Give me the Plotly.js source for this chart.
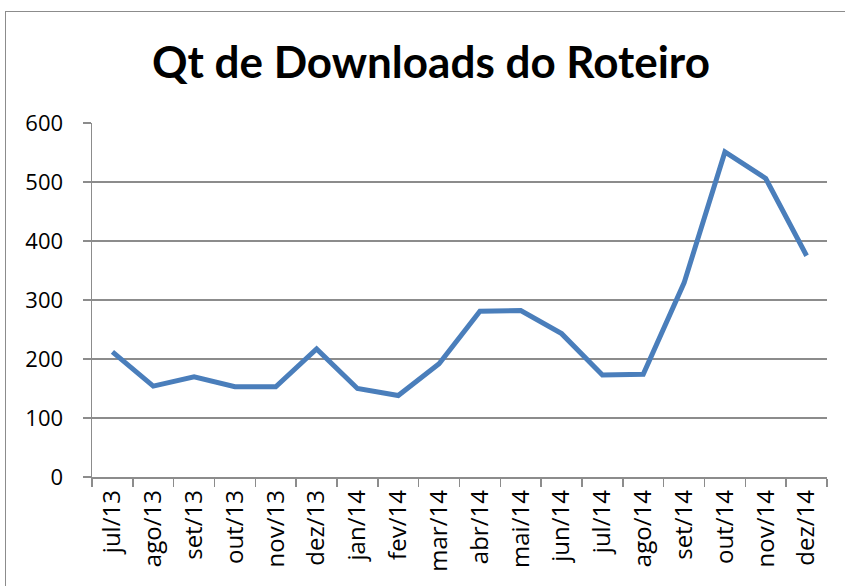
<!DOCTYPE html>
<html>
<head>
<meta charset="utf-8">
<script src="https://cdn.plot.ly/plotly-3.0.1.min.js"></script>
<style>
  html, body { margin: 0; padding: 0; background: #fff; overflow: hidden; }
  #chart { position: absolute; left: 0; top: 0; width: 845px; height: 586px; }
  #frame { position: absolute; left: 5px; top: 11px; width: 900px; height: 700px;
    border: 1.5px solid #8c8c8c; pointer-events: none; }
</style>
</head>
<body>
<div id="chart"></div>
<div id="frame"></div>
<script>
// Monthly download counts of the script, jul/13 .. dez/14
const MONTHS = ["jul/13", "ago/13", "set/13", "out/13", "nov/13", "dez/13",
  "jan/14", "fev/14", "mar/14", "abr/14", "mai/14", "jun/14",
  "jul/14", "ago/14", "set/14", "out/14", "nov/14", "dez/14"];
const DOWNLOADS = [212, 154, 170, 153, 153, 217, 150, 138, 192, 281, 282, 243,
  173, 174, 329, 551, 506, 375];
const Y_TICKS = [0, 100, 200, 300, 400, 500, 600];

const TITLE_FONT = "Lato, 'Open Sans', sans-serif";
const TICK_FONT = "'Open Sans', Lato, sans-serif";
const GRID = "#8c8c8c";

const trace = {
  x: MONTHS, y: DOWNLOADS, type: "scatter", mode: "lines",
  line: { width: 5, color: "#4a7ebb" }, hoverinfo: "skip",
};

Plotly.newPlot("chart", [trace], {
  width: 845, height: 586,
  margin: { l: 92, r: 18, t: 123, b: 109 },
  paper_bgcolor: "#fff", plot_bgcolor: "#fff",
  showlegend: false,
  title: {
    text: "<b>Qt de Downloads do Roteiro</b>",
    font: { family: TITLE_FONT, size: 44, color: "#000" },
    xref: "container", x: 0.51, xanchor: "center",
    yref: "container", y: 1 - 63 / 586, yanchor: "middle",
  },
  xaxis: {
    type: "category", range: [-0.5, 17.5], tickson: "boundaries",
    ticks: "outside", ticklen: 8, tickcolor: GRID, tickwidth: 1.5,
    tickangle: -90, tickfont: { family: TICK_FONT, size: 24, color: "#000" },
    ticklabelstandoff: 2,
    showline: true, linecolor: GRID, linewidth: 1.5,
    showgrid: false, zeroline: false, fixedrange: true,
  },
  yaxis: {
    range: [0, 600], tickvals: Y_TICKS, ticktext: Y_TICKS.map(String),
    ticks: "outside", ticklen: 8, tickcolor: GRID, tickwidth: 1.5,
    tickfont: { family: TICK_FONT, size: 22, color: "#000" },
    ticklabelstandoff: 15,
    showline: true, linecolor: GRID, linewidth: 1.5,
    showgrid: true, gridcolor: GRID, gridwidth: 1.5,
    zeroline: false, fixedrange: true,
  },
}, { staticPlot: true, displayModeBar: false });
</script>
</body>
</html>
